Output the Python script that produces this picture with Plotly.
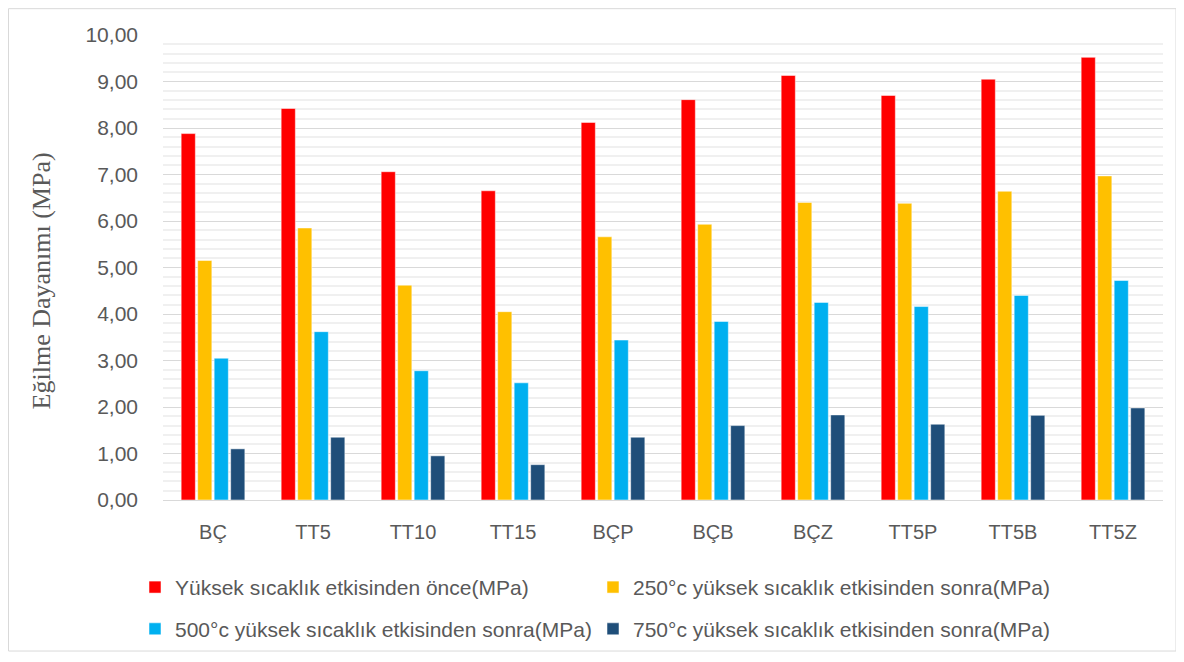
import plotly.graph_objects as go

categories = ["BÇ", "TT5", "TT10", "TT15", "BÇP", "BÇB", "BÇZ", "TT5P", "TT5B", "TT5Z"]
before = [7.88, 8.42, 7.06, 6.65, 8.12, 8.61, 9.13, 8.70, 9.05, 9.52]
after250 = [5.15, 5.85, 4.62, 4.05, 5.66, 5.93, 6.40, 6.38, 6.64, 6.97]
after500 = [3.05, 3.62, 2.78, 2.52, 3.44, 3.84, 4.25, 4.16, 4.40, 4.72]
after750 = [1.10, 1.35, 0.95, 0.76, 1.35, 1.60, 1.83, 1.63, 1.82, 1.98]

series_names = [
    "Yüksek sıcaklık etkisinden önce(MPa)",
    "250°c yüksek sıcaklık etkisinden sonra(MPa)",
    "500°c yüksek sıcaklık etkisinden sonra(MPa)",
    "750°c yüksek sıcaklık etkisinden sonra(MPa)",
]
series_values = [before, after250, after500, after750]
colors = ["#FF0000", "#FFC000", "#00B0F0", "#1F4E79"]
legends = ["legend", "legend", "legend2", "legend2"]
y_title = "Eğilme Dayanımı (MPa)"

fig = go.Figure()
for name, vals, col, lg in zip(series_names, series_values, colors, legends):
    fig.add_trace(go.Bar(
        x=categories, y=vals, name=name,
        marker=dict(color=col, line=dict(color="rgba(255,255,255,0.5)", width=1)),
        legend=lg,
    ))

OFF = 8  # page body margin
W, H = 1176, 654
ml, mr, mt, mb = 155, 21, 27, 159
pw = W - ml - mr
ph = H - mt - mb

def px_x(p):
    return (p - OFF - ml) / pw

def px_y(p):
    return (H - mb - (p - OFF)) / ph

legend_font = dict(family="Liberation Sans, Arial, sans-serif", size=21, color="#595959")

fig.update_layout(
    width=W, height=H,
    margin=dict(l=ml, r=mr, t=mt, b=mb),
    paper_bgcolor="white", plot_bgcolor="white",
    separators=",.",
    barmode="group", bargap=0.34, bargroupgap=0.14,
    font=dict(family="Liberation Sans, Arial, sans-serif", color="#595959"),
    legend=dict(orientation="h", x=px_x(135), y=px_y(591), xanchor="left", yanchor="middle",
                entrywidth=413, entrywidthmode="pixels", itemwidth=30, font=legend_font,
                bgcolor="rgba(0,0,0,0)"),
    legend2=dict(orientation="h", x=px_x(135), y=px_y(633), xanchor="left", yanchor="middle",
                 entrywidth=413, entrywidthmode="pixels", itemwidth=30, font=legend_font,
                 bgcolor="rgba(0,0,0,0)"),
    xaxis=dict(
        showgrid=False, showline=True, linecolor="#D9D9D9", linewidth=1,
        ticks="", tickfont=dict(size=20, color="#595959"), ticklabelstandoff=14,
    ),
    yaxis=dict(
        range=[0, 10], dtick=1, tickformat=".2f",
        showgrid=True, gridcolor="#D9D9D9", gridwidth=1,
        minor=dict(dtick=0.2, showgrid=True, gridcolor="#F0F0F0", gridwidth=2),
        zeroline=False, showline=False, ticks="",
        tickfont=dict(size=21, color="#595959"), ticklabelstandoff=24,
    ),
    annotations=[dict(text=y_title, xref="paper", yref="paper",
                      x=px_x(41), y=px_y(283), xanchor="center", yanchor="middle",
                      textangle=-90, showarrow=False,
                      font=dict(family="Liberation Serif, Times New Roman, serif", size=26, color="#595959"))],
    shapes=[dict(type="rect", xref="paper", yref="paper",
                 x0=px_x(8.5), x1=px_x(1176), y0=px_y(655), y1=px_y(8.5),
                 line=dict(color="#D9D9D9", width=1), fillcolor="rgba(0,0,0,0)", layer="below")],
)

fig.write_html("out.html")
